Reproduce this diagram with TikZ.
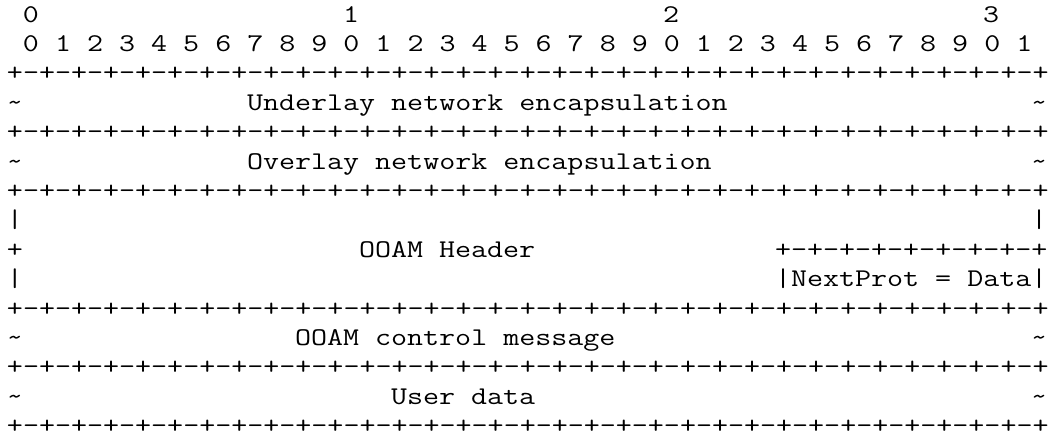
\documentclass[tikz,border=0pt]{standalone}
\usepackage{fontspec}
\def\pp{-+-+-+-+-+-+-+-+}
\def\ruler{+\pp\pp\pp\pp}
\newcommand\stx[1]{\scalebox{1.2202}[1]{#1}}
\begin{document}
\begin{tikzpicture}[x=1pt,y=-1pt,
  txt/.style={anchor=base west, inner sep=0pt, outer sep=0pt,
    font=\ttfamily\fontsize{25.5pt}{29.4pt}\selectfont, text=black}]
\useasboundingbox (0,0) rectangle (1050,434);
% column c, row r  ->  (7+16c, 22+29.4r)
\node[txt] (h0) at ({7+16*1},{22+29.4*0}) {\stx{0}};
\node[txt] (h1) at ({7+16*21},{22+29.4*0}) {\stx{1}};
\node[txt] (h2) at ({7+16*41},{22+29.4*0}) {\stx{2}};
\node[txt] (h3) at ({7+16*61},{22+29.4*0}) {\stx{3}};
\node[txt] (bits) at ({7+16*1},{22+29.4*1}) {\stx{0 1 2 3 4 5 6 7 8 9 0 1 2 3 4 5 6 7 8 9 0 1 2 3 4 5 6 7 8 9 0 1}};
\node[txt] (r2) at ({7},{22+29.4*2}) {\stx{\ruler}};
\node[txt] (t3l) at ({7},{22+29.4*3}) {\stx{\textasciitilde}};
\node[txt] (u) at ({7+16*15},{22+29.4*3}) {\stx{Underlay network encapsulation}};
\node[txt] (t3r) at ({7+16*64},{22+29.4*3}) {\stx{\textasciitilde}};
\node[txt] (r4) at ({7},{22+29.4*4}) {\stx{\ruler}};
\node[txt] (t5l) at ({7},{22+29.4*5}) {\stx{\textasciitilde}};
\node[txt] (o) at ({7+16*15},{22+29.4*5}) {\stx{Overlay network encapsulation}};
\node[txt] (t5r) at ({7+16*64},{22+29.4*5}) {\stx{\textasciitilde}};
\node[txt] (r6) at ({7},{22+29.4*6}) {\stx{\ruler}};
\node[txt] (b7l) at ({7},{22+29.4*7}) {\stx{|}};
\node[txt] (b7r) at ({7+16*64},{22+29.4*7}) {\stx{|}};
\node[txt] (p8) at ({7},{22+29.4*8}) {\stx{+}};
\node[txt] (hdr) at ({7+16*22},{22+29.4*8}) {\stx{OOAM Header}};
\node[txt] (sub) at ({7+16*48},{22+29.4*8}) {\stx{+\pp}};
\node[txt] (b9l) at ({7},{22+29.4*9}) {\stx{|}};
\node[txt] (b9m) at ({7+16*48},{22+29.4*9}) {\stx{|}};
\node[txt] (np) at ({7+16*49},{22+29.4*9}) {\stx{NextProt = Data}};
\node[txt] (b9r) at ({7+16*64},{22+29.4*9}) {\stx{|}};
\node[txt] (r10) at ({7},{22+29.4*10}) {\stx{\ruler}};
\node[txt] (t11l) at ({7},{22+29.4*11}) {\stx{\textasciitilde}};
\node[txt] (ctl) at ({7+16*18},{22+29.4*11}) {\stx{OOAM control message}};
\node[txt] (t11r) at ({7+16*64},{22+29.4*11}) {\stx{\textasciitilde}};
\node[txt] (r12) at ({7},{22+29.4*12}) {\stx{\ruler}};
\node[txt] (t13l) at ({7},{22+29.4*13}) {\stx{\textasciitilde}};
\node[txt] (ud) at ({7+16*24},{22+29.4*13}) {\stx{User data}};
\node[txt] (t13r) at ({7+16*64},{22+29.4*13}) {\stx{\textasciitilde}};
\node[txt] (r14) at ({7},{22+29.4*14}) {\stx{\ruler}};
\end{tikzpicture}
\end{document}
